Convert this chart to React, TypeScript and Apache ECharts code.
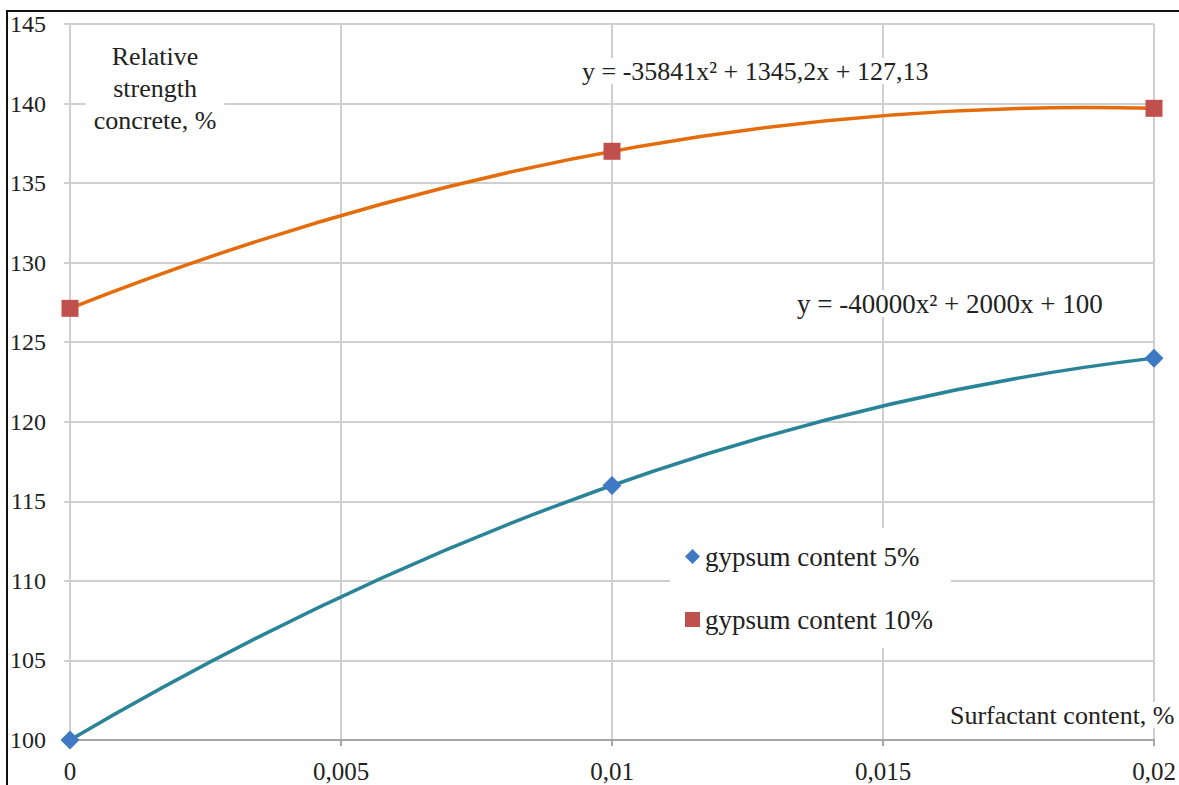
import React, { useEffect, useRef } from "react";
import * as echarts from "echarts";

const xValues = [0, 0.01, 0.02];
const gypsum5 = [100, 116, 124];
const gypsum10 = [127.13, 137, 139.7];
const seriesNames = ["gypsum content 5%", "gypsum content 10%"];
const eq5 = "y = -40000x\u00B2 + 2000x + 100";
const eq10 = "y = -35841x\u00B2 + 1345,2x + 127,13";

const FONT = "'Liberation Serif', 'DejaVu Serif', serif";

function curveRenderer(ys: number[], color: string) {
  return (params: any, api: any) => {
    if (params.dataIndex !== 0) return null;
    const p0 = api.coord([xValues[0], ys[0]]);
    const pm = api.coord([xValues[1], ys[1]]);
    const p2 = api.coord([xValues[2], ys[2]]);
    // quadratic control point so that curve passes through middle point
    const cx = 2 * pm[0] - 0.5 * (p0[0] + p2[0]);
    const cy = 2 * pm[1] - 0.5 * (p0[1] + p2[1]);
    return {
      type: "bezierCurve",
      shape: {
        x1: p0[0], y1: p0[1],
        x2: p2[0], y2: p2[1],
        cpx1: p0[0] + (2 / 3) * (cx - p0[0]),
        cpy1: p0[1] + (2 / 3) * (cy - p0[1]),
        cpx2: p2[0] + (2 / 3) * (cx - p2[0]),
        cpy2: p2[1] + (2 / 3) * (cy - p2[1]),
      },
      style: { stroke: color, lineWidth: 3.5, fill: null },
    };
  };
}

export default function App() {
  const ref = useRef<HTMLDivElement>(null);
  useEffect(() => {
    document.body.style.margin = "0";
    const chart = echarts.init(ref.current!, null, { renderer: "svg" });
    const fmt = (v: number) => String(+v.toFixed(4)).replace(".", ",");
    chart.setOption({
      animation: false,
      backgroundColor: "#fff",
      grid: { left: 70, right: 25, top: 24, bottom: 45 },
      xAxis: {
        type: "value",
        min: 0,
        max: 0.02,
        interval: 0.005,
        axisLine: { show: true, lineStyle: { color: "#a6a6a6", width: 2 } },
        axisTick: { show: true, length: 6, lineStyle: { color: "#a6a6a6", width: 2 } },
        axisLabel: { color: "#222", fontFamily: FONT, fontSize: 25, margin: 19, formatter: fmt },
        splitLine: { show: true, lineStyle: { color: "#cfcfcf", width: 2 } },
      },
      yAxis: {
        type: "value",
        min: 100,
        max: 145,
        interval: 5,
        axisLine: { show: true, lineStyle: { color: "#cfcfcf", width: 2 } },
        axisTick: { show: true, length: 6, lineStyle: { color: "#cfcfcf", width: 2 } },
        axisLabel: { color: "#222", fontFamily: FONT, fontSize: 24, margin: 24 },
        splitLine: { show: true, lineStyle: { color: "#cfcfcf", width: 2 } },
      },
      legend: {
        orient: "vertical",
        left: 670,
        top: 528,
        padding: [15, 18, 15, 15],
        itemGap: 36,
        itemWidth: 15,
        itemHeight: 15,
        backgroundColor: "#fff",
        textStyle: { fontFamily: FONT, fontSize: 27, color: "#222" },
        data: [
          { name: seriesNames[0], icon: "diamond" },
          { name: seriesNames[1], icon: "rect" },
        ],
      },
      series: [
        {
          name: seriesNames[0] + " trend",
          type: "custom",
          renderItem: curveRenderer(gypsum5, "#2a8497"),
          data: xValues.map((x, i) => [x, gypsum5[i]]),
          silent: true,
          z: 2,
        },
        {
          name: seriesNames[1] + " trend",
          type: "custom",
          renderItem: curveRenderer(gypsum10, "#e46c0a"),
          data: xValues.map((x, i) => [x, gypsum10[i]]),
          silent: true,
          z: 2,
        },
        {
          name: seriesNames[0],
          type: "scatter",
          symbol: "diamond",
          symbolSize: 19,
          itemStyle: { color: "#3f78c3", opacity: 1 },
          data: xValues.map((x, i) => [x, gypsum5[i]]),
          z: 3,
        },
        {
          name: seriesNames[1],
          type: "scatter",
          symbol: "rect",
          symbolSize: 17,
          itemStyle: { color: "#c0504d", opacity: 1 },
          data: xValues.map((x, i) => [x, gypsum10[i]]),
          z: 3,
        },
      ],
      graphic: [
        {
          type: "rect",
          shape: { x: 7, y: 11, width: 1300, height: 900 },
          style: { fill: null, stroke: "#111", lineWidth: 2 },
          z: 100,
        },
        {
          type: "text",
          x: 155,
          y: 40,
          style: {
            text: "Relative\nstrength\nconcrete, %",
            fontFamily: FONT,
            fontSize: 26,
            lineHeight: 32,
            align: "center",
            fill: "#222",
            backgroundColor: "#fff",
            padding: [0, 8, 0, 8],
          },
          z: 50,
        },
        {
          type: "text",
          x: 582,
          y: 58,
          style: {
            text: eq10,
            fontFamily: FONT,
            fontSize: 26,
            fill: "#222",
            backgroundColor: "#fff",
          },
          z: 50,
        },
        {
          type: "text",
          x: 791,
          y: 290,
          style: {
            text: eq5,
            fontFamily: FONT,
            fontSize: 27,
            fill: "#222",
            backgroundColor: "#fff",
            padding: [0, 6, 0, 6],
          },
          z: 50,
        },
        {
          type: "text",
          x: 950,
          y: 702,
          style: {
            text: "Surfactant content, %",
            fontFamily: FONT,
            fontSize: 26,
            fill: "#222",
            backgroundColor: "#fff",
          },
          z: 50,
        },
      ],
    });
    return () => chart.dispose();
  }, []);
  return (
    <div
      ref={ref}
      style={{ position: "fixed", left: 0, top: 0, width: 1179, height: 785 }}
    />
  );
}
